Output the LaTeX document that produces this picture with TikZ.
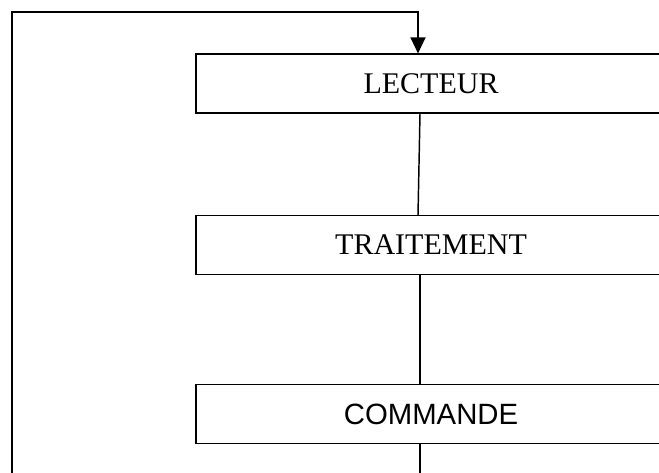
\documentclass[tikz,border=0pt]{standalone}
\usepackage{fontspec}
\setmainfont{Liberation Serif}
\newfontfamily\arialfont{Liberation Sans}
\usetikzlibrary{arrows.meta}
\begin{document}
\begin{tikzpicture}[x=0.75pt,y=-0.75pt,
  stage/.style={draw,line width=1.1pt,minimum width=352.5pt,minimum height=44pt,
    inner sep=0pt,font=\fontsize{22.5}{26}\selectfont},
  link/.style={line width=1.1pt},
  feed/.style={line width=1.1pt,-{Triangle[width=11.25pt,length=12pt]}}]
\useasboundingbox (0,0) rectangle (659,473);
\clip (0,0) rectangle (659,473);
\fill[white] (0,0) rectangle (659,473);
% processing chain
\node[stage] (lect) at (431,83.5) {LECTEUR};
\node[stage] (trait) at (431,245) {TRAITEMENT};
\node[stage,font=\arialfont\fontsize{22}{26}\selectfont] (cmd) at (431,414) {COMMANDE};
\draw[link] ([xshift=-8.25pt]lect.south) -- ([xshift=-9.75pt]trait.north);
\draw[link] ([xshift=-8.25pt]trait.south) -- ([xshift=-8.25pt]cmd.north);
% feedback loop back to the reader
\coordinate (out) at (420,500);
\coordinate (corner) at (12,500);
\coordinate (topleft) at (12,12);
\coordinate (topright) at (418,12);
\draw[link] ([xshift=-8.25pt]cmd.south) -- (out) -- (corner);
\draw[feed] (corner) -- (topleft) -- (topright) -- (topright |- lect.north);
\end{tikzpicture}
\end{document}
